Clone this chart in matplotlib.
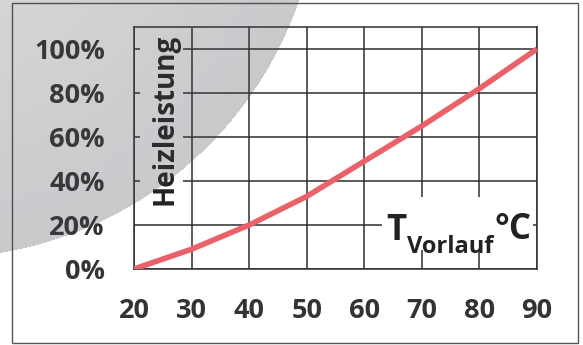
import matplotlib.pyplot as plt
import numpy as np
from matplotlib.patches import Rectangle

plt.rcParams["font.family"] = ["Open Sans", "DejaVu Sans"]
plt.rcParams["font.weight"] = "bold"

# Data
t_vorlauf = np.array([20, 30, 40, 50, 60, 70, 80, 90])
heizleistung = np.array([0, 9, 20, 33, 49, 65, 82, 100])

x_ticks = [20, 30, 40, 50, 60, 70, 80, 90]
y_ticks = [0, 20, 40, 60, 80, 100]
y_tick_labels = ["0%", "20%", "40%", "60%", "80%", "100%"]

W, H = 583, 345
text_color = "#333333"
grid_color = "#2e2e2e"
line_color = "#ea6169"


def px(x, y):
    return x / W, 1 - y / H


fig = plt.figure(figsize=(W / 100, H / 100), dpi=100)
fig.patch.set_facecolor("white")

ax = fig.add_axes([134 / W, 1 - 269 / H, (537 - 134) / W, (269 - 27) / H])
ax.set_xlim(20, 90)
ax.set_ylim(0, 110)
ax.set_xticks(x_ticks)
ax.set_yticks(y_ticks)
ax.set_yticklabels(y_tick_labels)
ax.tick_params(axis="both", length=0, labelsize=19.5, labelcolor=text_color)
ax.tick_params(axis="y", pad=21)
ax.tick_params(axis="x", pad=21)
for lab in ax.get_xticklabels() + ax.get_yticklabels():
    lab.set_fontweight("bold")
ax.grid(True, color=grid_color, linewidth=1.1, zorder=1)
ax.set_axisbelow(True)
for s in ax.spines.values():
    s.set_color(grid_color)
    s.set_linewidth(1.1)
    s.set_zorder(3)

# white boxes behind the axis labels that break the grid
ax.add_patch(Rectangle((21.0, 29), 7.5, 79, facecolor="white", edgecolor="none", zorder=2))
ax.add_patch(Rectangle((63.1, 8.6), 26.2, 24.3, facecolor="white", edgecolor="none", zorder=2))

ax.plot(t_vorlauf, heizleistung, color=line_color, linewidth=4.0,
        solid_joinstyle="round", solid_capstyle="butt", zorder=4)

# axis labels
fig.text(*px(165, 119), "Heizleistung", rotation=90, ha="center", va="center",
         fontsize=20, fontweight="bold", color="#222222")
fig.text(*px(386, 240), "T", ha="left", va="baseline", fontsize=25,
         fontweight="bold", color="#222222")
fig.text(*px(407, 253), "Vorlauf", ha="left", va="baseline", fontsize=17,
         fontweight="bold", color="#222222")
fig.text(*px(495, 239), "°C", ha="left", va="baseline", fontsize=25,
         fontweight="bold", color="#222222")

# outer frame
fig.add_artist(Rectangle((12 / W, 1 - 343 / H), (578 - 12) / W, (343 - 3) / H,
                         transform=fig.transFigure, fill=False,
                         edgecolor="#555555", linewidth=1.0))

# grey circle overlay in the upper left corner
ov = fig.add_axes([0, 0, 1, 1], zorder=10)
ov.set_xlim(0, W)
ov.set_ylim(H, 0)
ov.axis("off")
yy, xx = np.mgrid[0:H, 0:W] + 0.5
cx, cy, r = -62, -124, 382
dist = np.hypot(xx - cx, yy - cy)
shade = 0.79 + 0.07 * np.clip(1 - dist / r, 0, 1)
alpha = np.where(dist < r, (1 - shade) / 0.72, 0.0)
rgba = np.zeros((H, W, 4))
rgba[..., 0] = 0.27
rgba[..., 1] = 0.28
rgba[..., 2] = 0.31
rgba[..., 3] = alpha
ov.imshow(rgba, extent=(0, W, H, 0), interpolation="bilinear", aspect="auto")

fig.savefig("out.png", dpi=100)
plt.close(fig)
